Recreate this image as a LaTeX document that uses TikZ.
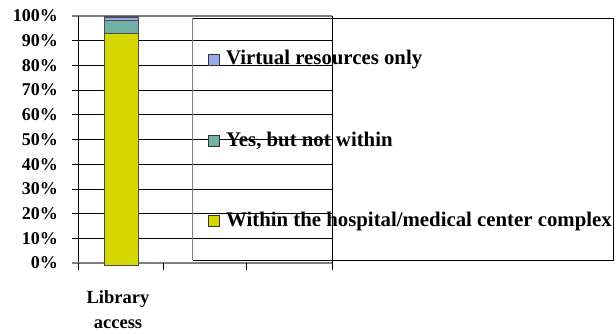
\documentclass[tikz,border=0pt]{standalone}
\usepackage{fontspec}
\setmainfont{Liberation Serif}
\begin{document}
\begin{tikzpicture}[x=1pt,y=-1pt,
  grid/.style={black,line width=0.7pt},
  lbl/.style={font=\bfseries\fontsize{18}{20}\selectfont,inner sep=0pt},
  legtxt/.style={font=\bfseries\fontsize{20.8}{22}\selectfont,inner sep=0pt},
  legsq/.style={draw=black!80,line width=0.6pt,minimum size=11pt,inner sep=0pt}]
\useasboundingbox (0,0) rectangle (616,333);
% gridlines and labels
\foreach \p in {0,10,...,100}{
  \pgfmathsetmacro{\yy}{263-2.47*\p}
  \draw[grid] (72,\yy) -- (332,\yy);
  \node[lbl,anchor=east] (y\p) at (58,\yy) {\p\%};
}
\draw[gray,line width=1.2pt] (72,16) -- (332,16);
% axes
\draw[black,line width=0.8pt] (78.5,16) -- (78.5,263);
\draw[gray,line width=1.2pt] (72,263) -- (332,263);
\draw[black,line width=0.8pt] (332,16) -- (332,270);
\foreach \x in {78.5,163,246,332}{\draw[black,line width=0.8pt] (\x,263) -- (\x,270);}
% bar
\fill[fill={rgb,255:red,214;green,214;blue,0},draw=black!70,line width=0.8pt] (104,265) rectangle (138,33);
\draw[fill={rgb,255:red,115;green,176;blue,168},draw=black!70,line width=0.8pt] (104,33) rectangle (138,20.5);
\draw[fill={rgb,255:red,148;green,170;blue,235},draw=black!70,line width=0.8pt] (104,20.5) rectangle (138,17);
\draw[draw=black!70,line width=0.8pt] (104,265) rectangle (138,16);
% legend box
\draw[black,line width=0.7pt] (192.7,18.3) -- (613,18.3) -- (613,260) -- (192.7,260);
\draw[gray,line width=1.2pt] (192.7,18.3) -- (192.7,260);
\node[legsq,fill={rgb,255:red,148;green,170;blue,235}] (s1) at (214,60) {};
\node[legsq,fill={rgb,255:red,115;green,176;blue,168}] (s2) at (214,141) {};
\node[legsq,fill={rgb,255:red,214;green,214;blue,0}] (s3) at (214,221) {};
\node[legtxt,anchor=west] (t1) at (226,60) {Virtual resources only};
\node[legtxt,anchor=west] (t2) at (226,141) {Yes, but not within};
\node[legtxt,anchor=west] (t3) at (226,221) {Within the hospital/medical center complex};
% category label
\node[align=center,inner sep=0pt,font=\bfseries\fontsize{18.5}{25}\selectfont] (cat) at (118,310) {Library\\access};
\end{tikzpicture}
\end{document}
